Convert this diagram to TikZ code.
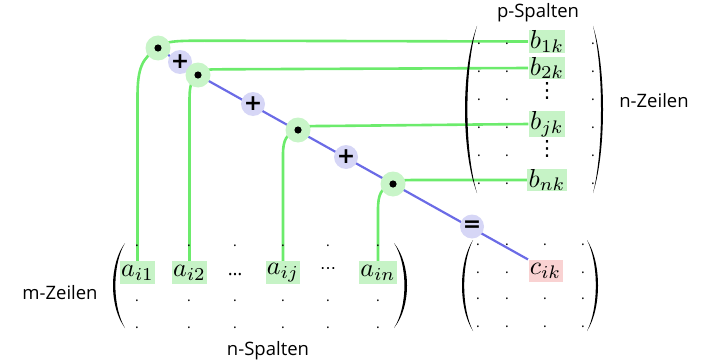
\documentclass[tikz,border=0pt]{standalone}
\usepackage{fontspec}
\setmainfont{Open Sans}
\newfontfamily\symf{DejaVu Sans}
\usetikzlibrary{backgrounds}
\definecolor{glin}{HTML}{6CEB6C}
\definecolor{gcirc}{HTML}{C8F5C8}
\definecolor{gboxc}{HTML}{C6F3C6}
\definecolor{blin}{HTML}{6B6BE6}
\definecolor{bcirc}{HTML}{D6D6F6}
\definecolor{pboxc}{HTML}{F9D2D2}
% #1 bulge x, #2 signed width (tips at #1+#2), #3 top y, #4 bottom y
\newcommand\mypar[4]{\fill ({#1+#2},#3) .. controls ({#1-#2/3},{#3+0.25*(#4-#3)}) and ({#1-#2/3},{#3+0.75*(#4-#3)}) .. ({#1+#2},#4) .. controls ({#1-#2/15},{#3+0.75*(#4-#3)}) and ({#1-#2/15},{#3+0.25*(#4-#3)}) .. cycle;}
\begin{document}
\begin{tikzpicture}[x=1pt,y=-1pt,
 gline/.style={draw=glin, line width=2.6pt},
 bline/.style={draw=blin, line width=2.2pt},
 mulc/.style={circle, fill=gcirc, minimum size=25pt, inner sep=0pt, path picture={\fill[black] (path picture bounding box.center) circle (3.6pt);}},
 addc/.style={circle, fill=bcirc, minimum size=24pt, inner sep=0pt, font=\symf\bfseries\fontsize{22}{22}\selectfont},
 ent/.style={scale=2.6, inner xsep=0.5pt, inner ysep=0.1pt, minimum width=12.6pt, minimum height=8.5pt, font=\fontsize{10}{12}\selectfont},
 gent/.style={ent, fill=gboxc},
 pent/.style={ent, fill=pboxc},
 mdot/.style={anchor=base, inner sep=0pt, font=\fontsize{14}{14}\selectfont},
 lbl/.style={font=\fontsize{18.5}{18.5}\selectfont, inner sep=0pt}
]
\useasboundingbox (0,0) rectangle (703,361);
% matrix A
\mypar{113}{12}{243}{328}
\mypar{407}{-13}{243}{328}
\foreach \x in {137,189,235,283,328,378}
  \foreach \y in {245,300,327}
    \node[mdot] (da-\x-\y) at (\x,\y+1) {.};
\node[gent] (a1) at (137.5,272.5) {$a_{i1}$};
\node[gent] (a2) at (189.5,272.5) {$a_{i2}$};
\node[anchor=base, inner sep=0pt, font=\fontsize{18.5}{18.5}\selectfont] (el1) at (235,275) {…};
\node[gent] (a3) at (283,272.5) {$a_{ij}$};
\node[anchor=base, inner sep=0pt, font=\symf\fontsize{16}{16}\selectfont] (el2) at (328,273) {⋯};
\node[gent] (a4) at (378,272.5) {$a_{in}$};
% matrix B
\mypar{465}{12}{26}{193}
\mypar{603}{-10}{26}{193}
\foreach \x in {479,507,593}
  \foreach \y in {44,71,99,127,155,183}
    \node[mdot] (db-\x-\y) at (\x,\y+1) {.};
\node[gent] (b1) at (547,41.5) {$b_{1k}$};
\node[gent] (b2) at (547,68) {$b_{2k}$};
\node[inner sep=0pt, font=\symf\fontsize{21}{21}\selectfont] (vd1) at (547,91) {⋮};
\node[gent] (b3) at (547,124) {$b_{jk}$};
\node[inner sep=0pt, font=\symf\fontsize{21}{21}\selectfont] (vd2) at (547,149) {⋮};
\node[gent] (b4) at (547,180) {$b_{nk}$};
% matrix C
\mypar{462}{11}{240}{331}
\mypar{598}{-11}{240}{331}
\foreach \x in {478,507,545,583}
  \foreach \y in {244.5,298,326}
    \node[mdot] (dc-\x-\y) at (\x,\y+1) {.};
\foreach \x in {478,507,583}
  \node[mdot] (dc-\x-272) at (\x,273) {.};
\node[pent] (c) at (545.5,271) {$c_{ik}$};
% operators
\node[addc] (p1) at (180,62) {+};
\node[addc] (p2) at (253,104) {+};
\node[addc] (p3) at (346,157) {+};
\node[addc] (eq) at (472,226.5) {=};
\node[mulc] (d1) at (158,48) {};
\node[mulc] (d2) at (198,75) {};
\node[mulc] (d3) at (298,130) {};
\node[mulc] (d4) at (393,184) {};
% labels
\node[lbl] (lp) at (538,13) {p-Spalten};
\node[lbl] (lnz) at (654,101) {n-Zeilen};
\node[lbl] (lmz) at (60,292.5) {m-Zeilen};
\node[lbl] (lns) at (268,351) {n-Spalten};
\begin{pgfonlayer}{background}
\draw[bline] (d1.center) -- (d2.center) -- (c.north west);
\draw[gline] (d1.center) .. controls (164,41) and (175,40.7) .. (205,40.7) -- (b1.west);
\draw[gline] (d1.center) .. controls (142,58) and (137.5,68) .. (137.5,97) -- (a1.north);
\draw[gline] (d2.center) .. controls (203,69.3) and (208,69.3) .. (222,69.3) -- (b2.west);
\draw[gline] (d2.center) .. controls (191,80) and (189.5,86) .. (189.5,100) -- (a2.north);
\draw[gline] (d3.center) .. controls (303,126) and (308,126) .. (325,126) -- (b3.west);
\draw[gline] (d3.center) .. controls (286,134) and (283,140) .. (283,155) -- (a3.north);
\draw[gline] (d4.center) .. controls (398,180) and (403,180) .. (420,180) -- (b4.west);
\draw[gline] (d4.center) .. controls (381,188) and (378,194) .. (378,210) -- (a4.north);
\end{pgfonlayer}
\end{tikzpicture}
\end{document}
